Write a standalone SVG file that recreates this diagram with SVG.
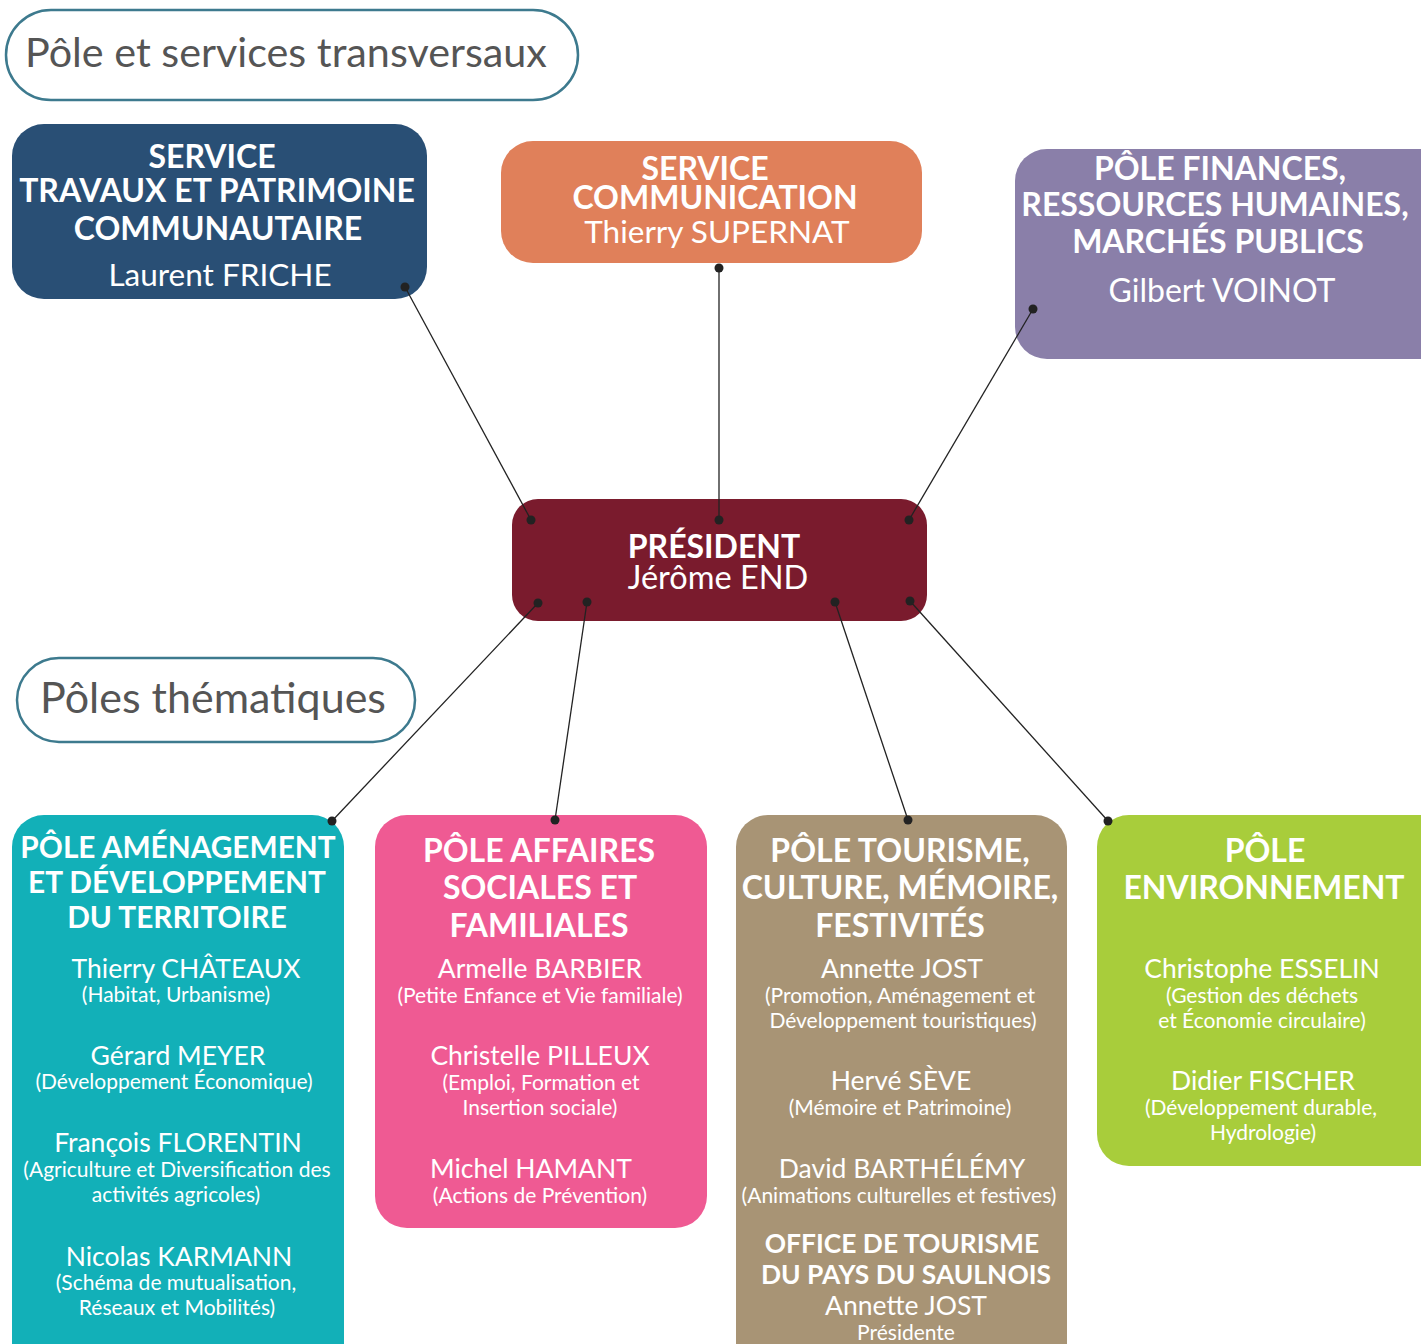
<svg xmlns="http://www.w3.org/2000/svg" width="1421" height="1344" viewBox="0 0 1421 1344">
<style>
text{font-family:Lato,"Noto Sans","Liberation Sans",sans-serif;fill:#fff;text-anchor:middle}
.h{font-weight:700;font-size:32px}
.n{font-size:26.5px}
.t{font-size:31.5px}
.s{font-size:21px}
.lbl{fill:#555;text-anchor:start}
.pill{fill:#fff;stroke:#3d7a8e;stroke-width:2.5}
.c line{stroke:#222;stroke-width:1.3}
.c circle{fill:#222}
</style>
<rect width="1421" height="1344" fill="#fff"/>
<g id="label-transversaux"><rect class="pill" x="6" y="10" width="572" height="90" rx="45"/><text class="lbl" style="font-size:41.3px" x="25" y="67">Pôle et services transversaux</text></g>
<g id="label-thematiques"><rect class="pill" x="17" y="658" width="398" height="84" rx="42"/><text class="lbl" style="font-size:43px" x="40" y="713">Pôles thématiques</text></g>

<g id="travaux"><rect x="12" y="124" width="415" height="175" rx="32" fill="#294f75"/>
<text class="h" x="212" y="168">SERVICE</text><text class="h" x="217" y="202">TRAVAUX ET PATRIMOINE</text><text class="h" x="218" y="240">COMMUNAUTAIRE</text><text class="t" x="220" y="286">Laurent FRICHE</text></g>

<g id="communication"><rect x="501" y="141" width="421" height="122" rx="32" fill="#e0805a"/>
<text class="h" x="705" y="180">SERVICE</text><text class="h" x="715" y="209">COMMUNICATION</text><text class="t" x="717" y="243">Thierry SUPERNAT</text></g>

<g id="finances"><rect x="1015" y="149" width="440" height="210" rx="32" fill="#8a7fa9"/>
<text class="h" x="1220" y="180">PÔLE FINANCES,</text><text class="h" x="1215" y="216">RESSOURCES HUMAINES,</text><text class="h" x="1218" y="253">MARCHÉS PUBLICS</text><text class="t" style="font-size:32px" x="1222" y="302">Gilbert VOINOT</text></g>

<g id="president"><rect x="512" y="499" width="415" height="122" rx="26" fill="#7a1b2d"/>
<text class="h" x="714" y="558">PRÉSIDENT</text><text class="t" style="font-size:32.5px" x="718" y="589">Jérôme END</text></g>

<g id="amenagement"><rect x="12" y="815" width="332" height="560" rx="32" fill="#12b0b8"/>
<text class="h" style="font-size:29.8px" x="178" y="858">PÔLE AMÉNAGEMENT</text><text class="h" style="font-size:29.8px" x="177" y="893">ET DÉVELOPPEMENT</text><text class="h" style="font-size:29.8px" x="177" y="928">DU TERRITOIRE</text>
<text class="n" x="186" y="978">Thierry CHÂTEAUX</text><text class="s" x="176" y="1002">(Habitat, Urbanisme)</text>
<text class="n" x="178" y="1065">Gérard MEYER</text><text class="s" x="174" y="1089">(Développement Économique)</text>
<text class="n" x="178" y="1152">François FLORENTIN</text><text class="s" x="177" y="1177">(Agriculture et Diversification des</text><text class="s" x="176" y="1202">activités agricoles)</text>
<text class="n" x="179" y="1266">Nicolas KARMANN</text><text class="s" x="176" y="1290">(Schéma de mutualisation,</text><text class="s" x="177" y="1315">Réseaux et Mobilités)</text></g>

<g id="affaires-sociales"><rect x="375" y="815" width="332" height="413" rx="32" fill="#ef5a93"/>
<text class="h" x="539" y="862">PÔLE AFFAIRES</text><text class="h" x="540" y="899">SOCIALES ET</text><text class="h" x="539" y="937">FAMILIALES</text>
<text class="n" x="540" y="978">Armelle BARBIER</text><text class="s" x="540" y="1003">(Petite Enfance et Vie familiale)</text>
<text class="n" x="540" y="1065">Christelle PILLEUX</text><text class="s" x="541" y="1090">(Emploi, Formation et</text><text class="s" x="540" y="1115">Insertion sociale)</text>
<text class="n" x="531" y="1178">Michel HAMANT</text><text class="s" x="540" y="1203">(Actions de Prévention)</text></g>

<g id="tourisme"><rect x="736" y="815" width="331" height="560" rx="32" fill="#a89475"/>
<text class="h" x="900" y="862">PÔLE TOURISME,</text><text class="h" x="900" y="899">CULTURE, MÉMOIRE,</text><text class="h" x="900" y="937">FESTIVITÉS</text>
<text class="n" x="902" y="978">Annette JOST</text><text class="s" x="900" y="1003">(Promotion, Aménagement et</text><text class="s" x="903" y="1028">Développement touristiques)</text>
<text class="n" x="901" y="1090">Hervé SÈVE</text><text class="s" x="900" y="1115">(Mémoire et Patrimoine)</text>
<text class="n" x="902" y="1178">David BARTHÉLÉMY</text><text class="s" x="899" y="1203">(Animations culturelles et festives)</text>
<text class="h" style="font-size:26.4px" x="902" y="1253">OFFICE DE TOURISME</text><text class="h" style="font-size:26.4px" x="906" y="1284">DU PAYS DU SAULNOIS</text>
<text class="n" x="906" y="1315">Annette JOST</text><text class="s" x="906" y="1340">Présidente</text></g>

<g id="environnement"><rect x="1097" y="815" width="360" height="351" rx="32" fill="#a8cd3b"/>
<text class="h" x="1265" y="862">PÔLE</text><text class="h" x="1264" y="899">ENVIRONNEMENT</text>
<text class="n" x="1262" y="978">Christophe ESSELIN</text><text class="s" x="1262" y="1003">(Gestion des déchets</text><text class="s" x="1262" y="1028">et Économie circulaire)</text>
<text class="n" x="1263" y="1090">Didier FISCHER</text><text class="s" x="1261" y="1115">(Développement durable,</text><text class="s" x="1263" y="1140">Hydrologie)</text></g>

<g id="connectors" class="c">
<line x1="405" y1="287" x2="531" y2="520"/><circle cx="405" cy="287" r="4.5"/><circle cx="531" cy="520" r="4.5"/>
<line x1="719" y1="268" x2="719" y2="520"/><circle cx="719" cy="268" r="4.5"/><circle cx="719" cy="520" r="4.5"/>
<line x1="1033" y1="309" x2="909" y2="520"/><circle cx="1033" cy="309" r="4.5"/><circle cx="909" cy="520" r="4.5"/>
<line x1="538" y1="603" x2="332" y2="821"/><circle cx="538" cy="603" r="4.5"/><circle cx="332" cy="821" r="4.5"/>
<line x1="587" y1="602" x2="555" y2="820"/><circle cx="587" cy="602" r="4.5"/><circle cx="555" cy="820" r="4.5"/>
<line x1="835" y1="602" x2="908" y2="820"/><circle cx="835" cy="602" r="4.5"/><circle cx="908" cy="820" r="4.5"/>
<line x1="910" y1="601" x2="1108" y2="821"/><circle cx="910" cy="601" r="4.5"/><circle cx="1108" cy="821" r="4.5"/>
</g>
</svg>
